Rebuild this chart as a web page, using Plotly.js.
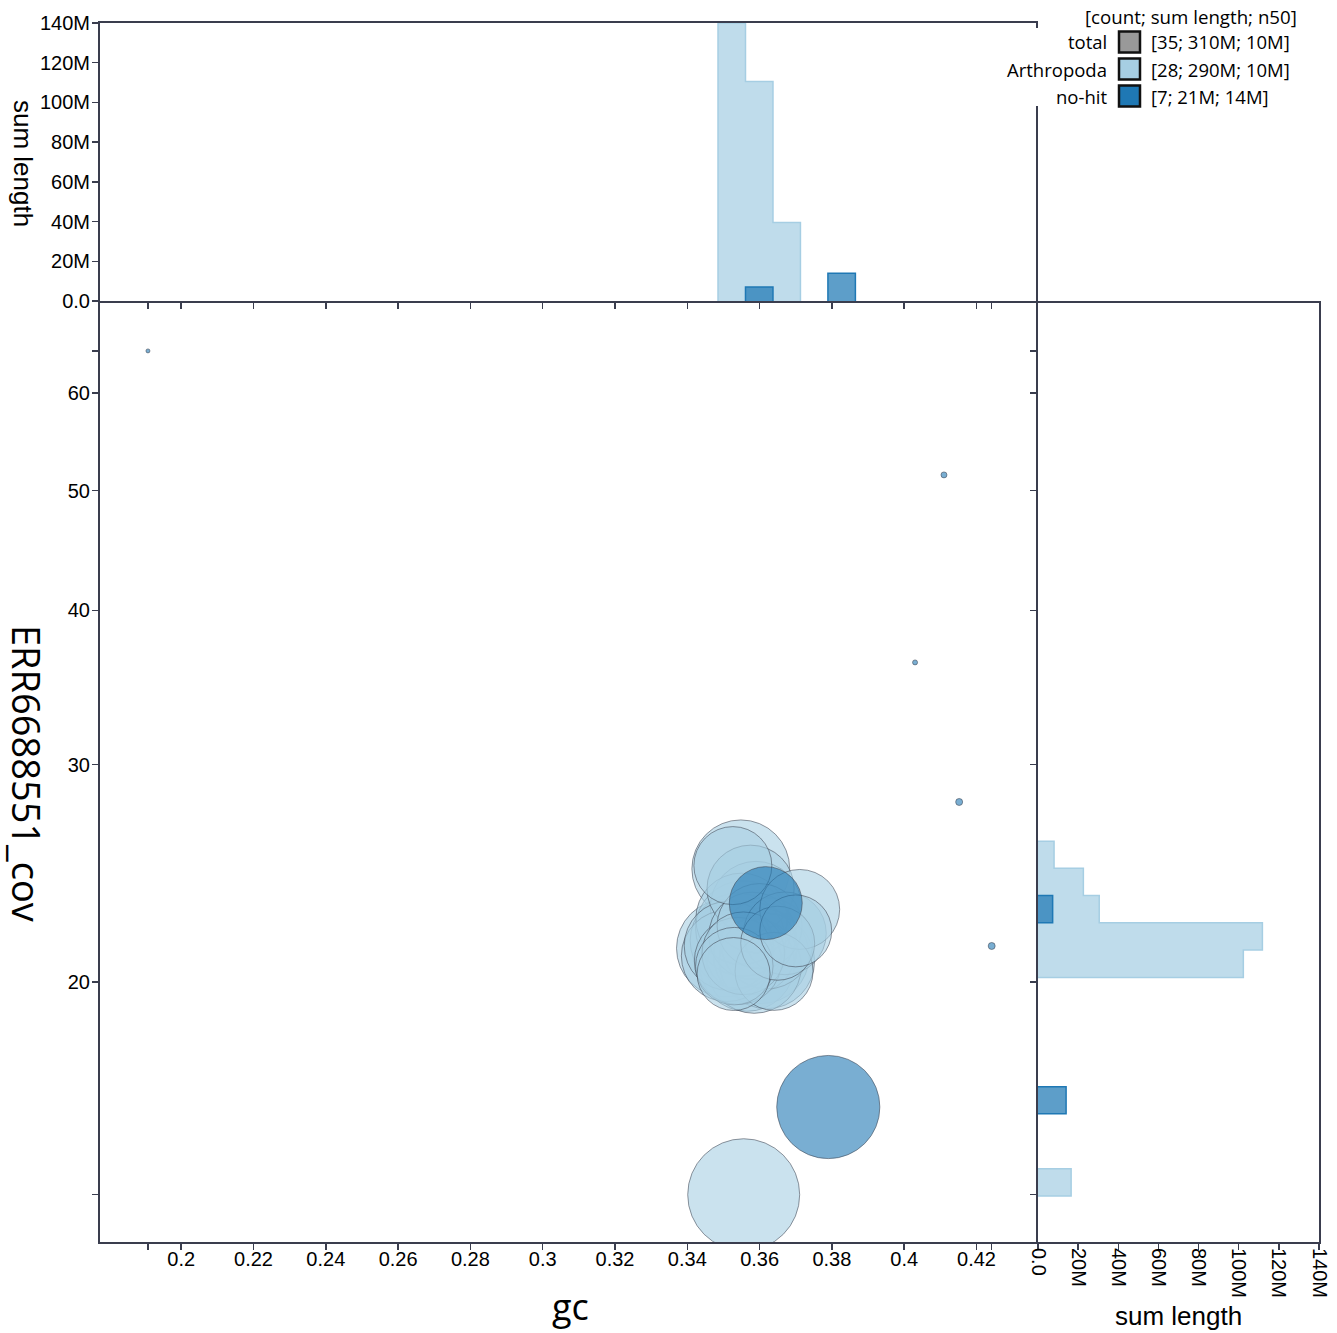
<!DOCTYPE html>
<html><head><meta charset="utf-8">
<script src="https://cdn.plot.ly/plotly-3.0.1.min.js"></script>
<style>html,body{margin:0;padding:0;background:#fff}#chart{width:1337px;height:1333px}</style>
</head><body><div id="chart"></div>
<script>
// ---- contigs (gc, coverage, length in Mb) ----
const arthGc  = [0.3526, 0.3548, 0.3575, 0.3711, 0.3590, 0.3550, 0.3700, 0.3670, 0.3540, 0.3515,
                 0.3580, 0.3600, 0.3555, 0.3620, 0.3505, 0.3575, 0.3650, 0.3528, 0.3640, 0.3540,
                 0.3585, 0.3510, 0.3605, 0.3565, 0.3530, 0.3620, 0.3555, 0.3556];
const arthCov = [24.85, 24.7, 23.8, 22.9, 23.0, 22.5, 22.0, 21.9, 21.6, 21.4,
                 21.8, 22.2, 22.1, 21.5, 21.3, 21.3, 21.5, 20.3, 20.4, 20.8,
                 20.6, 21.0, 21.0, 20.7, 20.6, 20.8, 21.1, 13.45];
const arthLen = [8.0, 12.6, 10.0, 8.4, 11.0, 11.0, 6.8, 9.0, 12.0, 10.5,
                 10.0, 9.5, 12.0, 11.0, 12.5, 11.3, 7.2, 7.0, 8.0, 10.0,
                 11.7, 11.0, 12.0, 12.0, 7.9, 12.0, 9.0, 16.5];
const nohitGc  = [0.3617, 0.3790, 0.1908, 0.4110, 0.4030, 0.4152, 0.4242];
const nohitCov = [23.17, 15.84, 64.9, 51.5, 36.3, 27.98, 21.39];
const nohitLen = [7.0, 14.0, 0.021, 0.047, 0.033, 0.064, 0.064];

// ---- gc histogram (sum length, Mb) ----
const gcBinLo = [0.3485, 0.3561, 0.3637, 0.3713, 0.3789];
const gcBinHi = [0.3561, 0.3637, 0.3713, 0.3789, 0.3865];
const gcArth  = [140, 110.5, 39.5, 0, 0];
const gcNoHit = [0, 7, 0, 0, 14];

// ---- coverage histogram (sum length, Mb) ----
const covBinLo = [13.42, 15.64, 20.17, 21.23, 22.34, 23.50, 24.73];
const covBinHi = [14.12, 16.45, 21.23, 22.34, 23.50, 24.73, 26.01];
const covArth  = [16.5, 0, 102.3, 111.8, 30.5, 22.6, 8.0];
const covNoHit = [0, 14.0, 0, 0, 7.3, 0, 0];

// ---- ticks ----
const xTickVals = [0.1908, 0.2, 0.22, 0.24, 0.26, 0.28, 0.3, 0.32, 0.34, 0.36, 0.38, 0.4, 0.42, 0.4242];
const xTickText = ['', '0.2', '0.22', '0.24', '0.26', '0.28', '0.3', '0.32', '0.34', '0.36', '0.38', '0.4', '0.42', ''];
const yTickVals = [13.45, 20, 30, 40, 50, 60, 64.9];
const yTickText = ['', '20', '30', '40', '50', '60', ''];
const lenTickVals = [0, 20, 40, 60, 80, 100, 120, 140];
const lenTickText = ['0.0', '20M', '40M', '60M', '80M', '100M', '120M', '140M'];

// ---- legend ----
const legendHeader = '[count; sum length; n50]';
const legendNames = ['total', 'Arthropoda', 'no-hit'];
const legendStats = ['[35; 310M; 10M]', '[28; 290M; 10M]', '[7; 21M; 14M]'];
const legendColors = ['#999999', '#a6cee3', '#1f78b4'];

// ---------------------------------------------------------------
const W = 1337, H = 1333;
const px = v => v / W;
const py = v => 1 - v / H;

// outline of a step histogram; zero bins become gaps (null separators)
function stepPolygon(lo, hi, vals) {
  const pos = [], val = [];
  let open = false;
  for (let i = 0; i < lo.length; i++) {
    if (!(vals[i] > 0)) {
      if (open) { pos.push(hi[i - 1]); val.push(0); pos.push(null); val.push(null); open = false; }
      continue;
    }
    if (open && Math.abs(lo[i] - hi[i - 1]) > 1e-9) {
      pos.push(hi[i - 1]); val.push(0); pos.push(null); val.push(null); open = false;
    }
    if (!open) { pos.push(lo[i]); val.push(0); open = true; }
    pos.push(lo[i]); val.push(vals[i]);
    pos.push(hi[i]); val.push(vals[i]);
  }
  if (open) { pos.push(hi[lo.length - 1]); val.push(0); }
  return {pos, val};
}
function order(len) { return len.map((v, i) => i).sort((a, b) => len[b] - len[a]); }
function pick(arr, idx) { return idx.map(i => arr[i]); }

const ARTH_FILL = 'rgba(166,206,227,0.72)', ARTH_LINE = 'rgb(166,206,227)';
const NH_FILL = 'rgba(31,120,180,0.72)', NH_LINE = '#1f78b4';
const SIZEREF = 2 / (27.57 * 27.57);

const oa = order(arthLen), on = order(nohitLen);
const gA = stepPolygon(gcBinLo, gcBinHi, gcArth);
const gN = stepPolygon(gcBinLo, gcBinHi, gcNoHit);
const cA = stepPolygon(covBinLo, covBinHi, covArth);
const cN = stepPolygon(covBinLo, covBinHi, covNoHit);

const BUB_LINE = {color: 'rgba(60,65,78,0.55)', width: 1};
const traces = [
  {type: 'scatter', mode: 'markers', name: 'Arthropoda', x: pick(arthGc, oa), y: pick(arthCov, oa),
   xaxis: 'x', yaxis: 'y', cliponaxis: true,
   marker: {size: pick(arthLen, oa), sizemode: 'area', sizeref: SIZEREF, sizemin: 0, opacity: 1,
            color: 'rgba(166,206,227,0.6)', line: BUB_LINE}},
  {type: 'scatter', mode: 'markers', name: 'no-hit', x: pick(nohitGc, on), y: pick(nohitCov, on),
   xaxis: 'x', yaxis: 'y', cliponaxis: true,
   marker: {size: pick(nohitLen, on), sizemode: 'area', sizeref: SIZEREF, sizemin: 0, opacity: 1,
            color: 'rgba(31,120,180,0.6)', line: BUB_LINE}},
  {type: 'scatter', mode: 'lines', x: gA.pos, y: gA.val, xaxis: 'x3', yaxis: 'y3', connectgaps: false,
   fill: 'toself', fillcolor: ARTH_FILL, line: {color: ARTH_LINE, width: 1.5}},
  {type: 'scatter', mode: 'lines', x: gN.pos, y: gN.val, xaxis: 'x3', yaxis: 'y3', connectgaps: false,
   fill: 'toself', fillcolor: NH_FILL, line: {color: NH_LINE, width: 1.5}},
  {type: 'scatter', mode: 'lines', x: cA.val, y: cA.pos, xaxis: 'x2', yaxis: 'y2', connectgaps: false,
   fill: 'toself', fillcolor: ARTH_FILL, line: {color: ARTH_LINE, width: 1.5}},
  {type: 'scatter', mode: 'lines', x: cN.val, y: cN.pos, xaxis: 'x2', yaxis: 'y2', connectgaps: false,
   fill: 'toself', fillcolor: NH_FILL, line: {color: NH_LINE, width: 1.5}}
];

const AX = '#3a3d4e';
const tickFont = {family: 'Liberation Sans, Arial, sans-serif', size: 20, color: '#000'};
const base = {showline: true, linecolor: AX, linewidth: 2, ticks: 'outside', ticklen: 6,
              tickwidth: 1.5, tickcolor: AX, showgrid: false, zeroline: false, mirror: true,
              tickfont: tickFont, automargin: false, fixedrange: true};

const xMainDom = [px(100), px(1038)];
const yMainDom = [py(1242), py(303)];
const xRange = [0.17754, 0.43701];
const PXPERGC = 3615;
const xTopDom = [px(100), px(1036)];
const xTopRange = [xRange[0], xRange[0] + 936 / PXPERGC];
const yRange = [1.09042, 1.85105];

const layout = {
  width: W, height: H,
  margin: {l: 0, r: 0, t: 0, b: 0},
  paper_bgcolor: '#fff', plot_bgcolor: '#fff',
  showlegend: false, hovermode: false,
  xaxis: Object.assign({}, base, {domain: xMainDom, anchor: 'y', range: xRange, ticklabelstandoff: -8,
          mirror: false, tickmode: 'array', tickvals: xTickVals, ticktext: xTickText}),
  yaxis: Object.assign({}, base, {domain: yMainDom, anchor: 'x', type: 'log', range: yRange, ticklabelstandoff: -2,
          mirror: false, tickmode: 'array', tickvals: yTickVals, ticktext: yTickText}),
  xaxis2: Object.assign({}, base, {domain: [px(1038), px(1319)], anchor: 'y2', range: [0, 140], ticklabelstandoff: -6,
          tickmode: 'array', tickvals: lenTickVals, ticktext: lenTickText, tickangle: 90}),
  yaxis2: Object.assign({}, base, {domain: yMainDom, anchor: 'x2', type: 'log', range: yRange,
          tickmode: 'array', tickvals: yTickVals, ticktext: yTickText, showticklabels: false}),
  xaxis3: Object.assign({}, base, {domain: xTopDom, anchor: 'y3', range: xTopRange,
          tickmode: 'array', tickvals: xTickVals, ticktext: xTickText, showticklabels: false}),
  yaxis3: Object.assign({}, base, {domain: [py(301), py(23)], anchor: 'x3', range: [0, 140], ticklabelstandoff: -2,
          tickmode: 'array', tickvals: lenTickVals, ticktext: lenTickText}),
  shapes: [
    {type: 'rect', xref: 'paper', yref: 'paper', x0: px(1032), x1: px(1043), y0: py(106), y1: py(28),
     fillcolor: '#fff', line: {width: 0}, layer: 'above'}
  ],
  annotations: [
    {text: 'gc', xref: 'paper', yref: 'paper', x: px(570), y: py(1306), xanchor: 'center', yanchor: 'middle',
     showarrow: false, font: {family: 'Open Sans', size: 36, color: '#000'}},
    {text: 'ERR6688551_cov', xref: 'paper', yref: 'paper', x: px(27), y: py(773), xanchor: 'center', yanchor: 'middle',
     textangle: 90, showarrow: false, font: {family: 'Open Sans', size: 38, color: '#000'}},
    {text: 'sum length', xref: 'paper', yref: 'paper', x: px(23), y: py(163), xanchor: 'center', yanchor: 'middle',
     textangle: 90, showarrow: false, font: {family: 'Liberation Sans, Arial, sans-serif', size: 26, color: '#000'}},
    {text: 'sum length', xref: 'paper', yref: 'paper', x: px(1178), y: py(1316), xanchor: 'center', yanchor: 'middle',
     showarrow: false, font: {family: 'Liberation Sans, Arial, sans-serif', size: 26, color: '#000'}},
    {text: legendHeader, xref: 'paper', yref: 'paper', x: px(1191), y: py(16), xanchor: 'center', yanchor: 'middle',
     showarrow: false, font: {family: 'Open Sans', size: 18.7, color: '#000'}}
  ]
};

const rowY = [42, 69, 96];
legendNames.forEach((name, i) => {
  layout.annotations.push({text: name, xref: 'paper', yref: 'paper', x: px(1109), y: py(rowY[i]),
    xanchor: 'right', yanchor: 'middle', showarrow: false, font: {family: 'Open Sans', size: 18.5, color: '#000'}});
  layout.annotations.push({text: legendStats[i], xref: 'paper', yref: 'paper', x: px(1149), y: py(rowY[i]),
    xanchor: 'left', yanchor: 'middle', showarrow: false, font: {family: 'Open Sans', size: 18.5, color: '#000'}});
  layout.shapes.push({type: 'rect', xref: 'paper', yref: 'paper',
    x0: px(1119), x1: px(1140), y0: py(rowY[i] + 10.5), y1: py(rowY[i] - 10.5),
    fillcolor: legendColors[i], line: {color: '#111', width: 2.5}, layer: 'above'});
});

Plotly.newPlot('chart', traces, layout, {displayModeBar: false, staticPlot: true});
</script>
</body></html>
